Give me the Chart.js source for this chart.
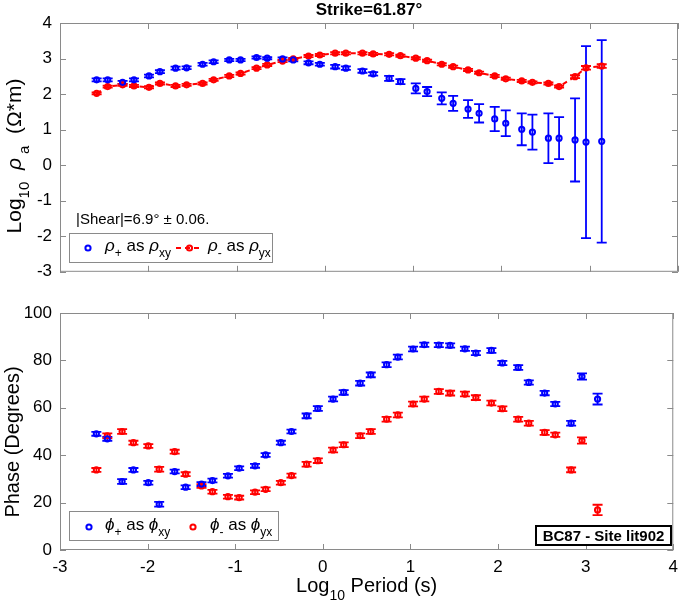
<!DOCTYPE html>
<html>
<head>
<meta charset="utf-8">
<script src="https://cdn.jsdelivr.net/npm/chart.js@4.4.1/dist/chart.umd.min.js"></script>
<style>
  html, body { margin: 0; padding: 0; background: #fff; }
  #wrap { position: relative; width: 685px; height: 603px; }
  canvas { position: absolute; left: 0; }
  #rho { top: 0; width: 685px; height: 290px; }
  #phase { top: 290px; width: 685px; height: 313px; }
</style>
</head>
<body>
<div id="wrap">
  <canvas id="rho" width="685" height="290"></canvas>
  <canvas id="phase" width="685" height="313"></canvas>
</div>
<script>
// periods (log10 s), shared by both panels
const logPeriod = [-2.585, -2.460, -2.291, -2.162, -1.992, -1.868, -1.691, -1.566, -1.385, -1.260,
  -1.083, -0.955, -0.774, -0.653, -0.479, -0.358, -0.185, -0.057, 0.117, 0.238,
  0.426, 0.547, 0.728, 0.856, 1.030, 1.158, 1.324, 1.453, 1.622, 1.747,
  1.924, 2.049, 2.230, 2.351, 2.532, 2.653, 2.834, 2.958, 3.136];

// log10 apparent resistivity
const rhoPlus = [2.40, 2.40, 2.33, 2.40, 2.51, 2.63, 2.73, 2.74, 2.84, 2.91,
  2.96, 2.96, 3.03, 3.01, 2.99, 2.96, 2.88, 2.84, 2.77, 2.73,
  2.65, 2.57, 2.44, 2.35, 2.16, 2.07, 1.88, 1.74, 1.58, 1.46,
  1.30, 1.18, 1.01, 0.93, 0.76, 0.76, 0.71, 0.65, 0.67];
const rhoPlusErr = [0.04, 0.04, 0.04, 0.04, 0.04, 0.04, 0.04, 0.04, 0.04, 0.04,
  0.03, 0.03, 0.03, 0.03, 0.04, 0.04, 0.04, 0.04, 0.05, 0.05,
  0.05, 0.05, 0.07, 0.07, 0.14, 0.13, 0.17, 0.21, 0.25, 0.26,
  0.34, 0.36, 0.45, 0.49, 0.70, 0.59, 1.17, 2.70, 2.85];
const rhoMinus = [2.02, 2.21, 2.26, 2.23, 2.19, 2.30, 2.23, 2.26, 2.30, 2.40,
  2.51, 2.58, 2.73, 2.82, 2.93, 2.99, 3.07, 3.10, 3.15, 3.15,
  3.15, 3.13, 3.12, 3.08, 3.01, 2.94, 2.84, 2.77, 2.68, 2.60,
  2.51, 2.43, 2.37, 2.33, 2.30, 2.21, 2.49, 2.74, 2.79];
const rhoMinusErr = [0.03, 0.03, 0.03, 0.03, 0.03, 0.03, 0.03, 0.03, 0.03, 0.03,
  0.03, 0.03, 0.03, 0.03, 0.03, 0.03, 0.03, 0.03, 0.03, 0.03,
  0.03, 0.03, 0.03, 0.03, 0.03, 0.03, 0.03, 0.03, 0.03, 0.03,
  0.03, 0.03, 0.03, 0.03, 0.03, 0.03, 0.04, 0.05, 0.05];

// phase (degrees)
const phasePlus = [49.0, 46.9, 28.9, 33.8, 28.4, 19.3, 33.1, 26.5, 27.8, 29.3,
  31.3, 34.5, 35.5, 40.1, 45.3, 50.0, 56.6, 59.7, 63.7, 66.5,
  70.4, 73.9, 78.2, 81.4, 84.8, 86.6, 86.5, 86.3, 84.9, 83.1,
  84.2, 78.9, 77.0, 70.7, 66.2, 61.6, 53.5, 73.2, 63.7];
const phasePlusErr = [0.8, 0.8, 1.0, 0.8, 0.8, 1.0, 0.8, 0.8, 0.8, 0.8,
  0.8, 0.8, 0.8, 0.8, 0.8, 0.8, 1.0, 1.0, 1.0, 1.0,
  1.0, 1.0, 1.0, 1.0, 1.0, 0.9, 0.9, 0.9, 0.9, 0.9,
  1.0, 0.9, 1.0, 0.9, 0.9, 0.9, 1.0, 1.3, 2.3];
const phaseMinus = [33.8, 48.2, 50.0, 45.3, 43.9, 34.1, 41.5, 32.0, 27.0, 24.6,
  22.5, 22.1, 24.4, 25.6, 28.4, 31.4, 36.2, 37.7, 42.2, 44.4,
  48.2, 50.0, 55.2, 57.0, 61.6, 63.7, 66.9, 66.2, 65.8, 64.3,
  62.0, 59.6, 55.2, 53.5, 49.6, 48.6, 33.8, 46.2, 16.9];
const phaseMinusErr = [0.8, 1.0, 1.0, 0.8, 0.8, 1.0, 0.8, 0.8, 0.8, 0.8,
  0.8, 0.8, 0.8, 0.8, 0.8, 0.8, 1.0, 1.0, 1.0, 1.0,
  1.0, 1.0, 1.0, 1.0, 1.0, 1.0, 1.0, 1.0, 1.0, 1.0,
  1.0, 1.0, 1.0, 1.0, 1.0, 0.9, 1.0, 1.3, 2.2];

const BLUE = '#0000ff';
const RED = '#ff0000';
const AXIS = '#8a8a8a';
const FONT = '"Liberation Sans", Arial, Helvetica, sans-serif';

const pts = ys => logPeriod.map((x, i) => ({x: x, y: ys[i]}));

// text with sub-scripts / italics: parts = [[text, style]], style: i italic, s subscript, b bold
function rich(ctx, parts, x, y, size, align) {
  const fontOf = st => (st.includes('i') ? 'italic ' : '') + (st.includes('b') ? 'bold ' : '') +
    (st.includes('s') ? Math.round(size * 0.72) : size) + 'px ' + FONT;
  let total = 0;
  parts.forEach(([t, st]) => { ctx.font = fontOf(st); total += ctx.measureText(t).width; });
  let cx = align === 'center' ? x - total / 2 : x;
  ctx.textAlign = 'left';
  ctx.textBaseline = 'alphabetic';
  parts.forEach(([t, st]) => {
    ctx.font = fontOf(st);
    ctx.fillText(t, cx, y + (st.includes('s') ? size * 0.38 : 0));
    cx += ctx.measureText(t).width;
  });
}

function marker(ctx, x, y, color) {
  ctx.beginPath();
  ctx.arc(x, y, 2.6, 0, Math.PI * 2);
  ctx.strokeStyle = color;
  ctx.lineWidth = 2;
  ctx.stroke();
}

const errorBars = {
  id: 'errorBars',
  beforeDatasetsDraw(chart) {
    const {ctx, scales: {x, y}} = chart;
    const cap = 5;
    chart.data.datasets.forEach(ds => {
      if (!ds.errors) return;
      ctx.save();
      ctx.strokeStyle = ds.borderColor;
      ctx.lineWidth = 1.8;
      ds.data.forEach((p, i) => {
        const px = x.getPixelForValue(p.x);
        const top = y.getPixelForValue(p.y + ds.errors[i]);
        const bot = y.getPixelForValue(p.y - ds.errors[i]);
        ctx.beginPath();
        ctx.moveTo(px, top); ctx.lineTo(px, bot);
        ctx.moveTo(px - cap, top); ctx.lineTo(px + cap, top);
        ctx.moveTo(px - cap, bot); ctx.lineTo(px + cap, bot);
        ctx.stroke();
      });
      ctx.restore();
    });
  }
};

// matlab style box with inward ticks
const frame = {
  id: 'frame',
  afterDraw(chart) {
    const {ctx, chartArea: a, scales: {x, y}} = chart;
    const len = 6;
    ctx.save();
    ctx.strokeStyle = AXIS;
    ctx.lineWidth = 1;
    ctx.strokeRect(a.left + 0.5, a.top + 0.5, a.right - a.left - 1, a.bottom - a.top - 1);
    ctx.beginPath();
    x.ticks.forEach(t => {
      const px = Math.round(x.getPixelForValue(t.value)) + 0.5;
      ctx.moveTo(px, a.bottom); ctx.lineTo(px, a.bottom - len);
      ctx.moveTo(px, a.top); ctx.lineTo(px, a.top + len);
    });
    y.ticks.forEach(t => {
      const py = Math.round(y.getPixelForValue(t.value)) + 0.5;
      ctx.moveTo(a.left, py); ctx.lineTo(a.left + len, py);
      ctx.moveTo(a.right, py); ctx.lineTo(a.right - len, py);
    });
    ctx.stroke();
    ctx.restore();
  }
};

const rhoText = {
  id: 'rhoText',
  afterDraw(chart) {
    const {ctx, chartArea: a} = chart;
    ctx.save();
    ctx.fillStyle = '#000';
    rich(ctx, [['Strike=61.87°', 'b']], (a.left + a.right) / 2, 15, 17, 'center');

    ctx.save();
    ctx.translate(21, 156);
    ctx.rotate(-Math.PI / 2);
    rich(ctx, [['Log', ''], ['10', 's'], ['  ', ''], ['ρ', 'i'], [' a', 's'], ['  (Ω*m)', '']], 0, 0, 21, 'center');
    ctx.restore();

    rich(ctx, [['|Shear|=6.9° ± 0.06.', '']], 76, 224, 15);

    // legend
    ctx.strokeStyle = AXIS;
    ctx.lineWidth = 1;
    ctx.strokeRect(69.5, 233.5, 203, 29);
    marker(ctx, 88, 248, BLUE);
    ctx.fillStyle = '#000';
    rich(ctx, [['ρ', 'i'], ['+', 's'], [' as ', ''], ['ρ', 'i'], ['xy', 's']], 105, 251, 17);
    ctx.save();
    ctx.strokeStyle = RED;
    ctx.lineWidth = 2;
    ctx.setLineDash([5, 4]);
    ctx.beginPath(); ctx.moveTo(176, 248); ctx.lineTo(203, 248); ctx.stroke();
    ctx.restore();
    marker(ctx, 189.5, 248, RED);
    ctx.fillStyle = '#000';
    rich(ctx, [['ρ', 'i'], ['-', 's'], [' as ', ''], ['ρ', 'i'], ['yx', 's']], 208, 251, 17);
    ctx.restore();
  }
};

const phaseText = {
  id: 'phaseText',
  afterDraw(chart) {
    const {ctx, chartArea: a} = chart;
    ctx.save();
    ctx.fillStyle = '#000';
    ctx.save();
    ctx.translate(19, 152);
    ctx.rotate(-Math.PI / 2);
    rich(ctx, [['Phase (Degrees)', '']], 0, 0, 20, 'center');
    ctx.restore();

    rich(ctx, [['Log', ''], ['10', 's'], [' Period (s)', '']], (a.left + a.right) / 2, 302, 20, 'center');

    // legend
    ctx.strokeStyle = AXIS;
    ctx.lineWidth = 1;
    ctx.strokeRect(69.5, 221.5, 209, 29);
    marker(ctx, 89, 237, BLUE);
    ctx.fillStyle = '#000';
    rich(ctx, [['ϕ', 'i'], ['+', 's'], [' as ', ''], ['ϕ', 'i'], ['xy', 's']], 105, 240, 17);
    marker(ctx, 193, 237, RED);
    ctx.fillStyle = '#000';
    rich(ctx, [['ϕ', 'i'], ['-', 's'], [' as ', ''], ['ϕ', 'i'], ['yx', 's']], 210, 240, 17);

    // site box
    ctx.fillStyle = '#fff';
    ctx.fillRect(536, 236, 135, 19);
    ctx.strokeStyle = '#000';
    ctx.lineWidth = 2;
    ctx.strokeRect(536, 236, 135, 19);
    ctx.fillStyle = '#000';
    rich(ctx, [['BC87 - Site lit902', 'b']], 603.5, 251, 15, 'center');
    ctx.restore();
  }
};

const tickFont = {family: FONT, size: 17};

function baseOptions(yMin, yMax, yStep, showX) {
  return {
    responsive: false,
    animation: false,
    layout: {padding: {top: 23, right: 7, bottom: 0, left: 0}},
    plugins: {legend: {display: false}, tooltip: {enabled: false}},
    scales: {
      x: {
        type: 'linear', min: -3, max: 4,
        ticks: {stepSize: 1, display: showX, color: '#000', font: tickFont, padding: 7},
        grid: {display: false, drawTicks: false},
        border: {display: false},
        afterFit: s => { s.height = showX ? 53 : 18; }
      },
      y: {
        min: yMin, max: yMax,
        ticks: {stepSize: yStep, color: '#000', font: tickFont, padding: 8},
        grid: {display: false, drawTicks: false},
        border: {display: false},
        afterFit: s => { s.width = 60; }
      }
    }
  };
}

new Chart(document.getElementById('rho'), {
  type: 'scatter',
  data: {
    datasets: [
      {
        label: 'rho+ as rho_xy', data: pts(rhoPlus), errors: rhoPlusErr,
        borderColor: BLUE, backgroundColor: 'rgba(0,0,0,0)',
        pointRadius: 2.6, pointBorderWidth: 2, showLine: false
      },
      {
        label: 'rho- as rho_yx', data: pts(rhoMinus), errors: rhoMinusErr,
        borderColor: RED, backgroundColor: 'rgba(0,0,0,0)',
        pointRadius: 2.6, pointBorderWidth: 2, showLine: true,
        borderWidth: 2, borderDash: [5, 4]
      }
    ]
  },
  options: baseOptions(-3, 4, 1, false),
  plugins: [errorBars, frame, rhoText]
});

new Chart(document.getElementById('phase'), {
  type: 'scatter',
  data: {
    datasets: [
      {
        label: 'phi+ as phi_xy', data: pts(phasePlus), errors: phasePlusErr,
        borderColor: BLUE, backgroundColor: 'rgba(0,0,0,0)',
        pointRadius: 2.6, pointBorderWidth: 2, showLine: false
      },
      {
        label: 'phi- as phi_yx', data: pts(phaseMinus), errors: phaseMinusErr,
        borderColor: RED, backgroundColor: 'rgba(0,0,0,0)',
        pointRadius: 2.6, pointBorderWidth: 2, showLine: false
      }
    ]
  },
  options: baseOptions(0, 100, 20, true),
  plugins: [errorBars, frame, phaseText]
});
</script>
</body>
</html>
